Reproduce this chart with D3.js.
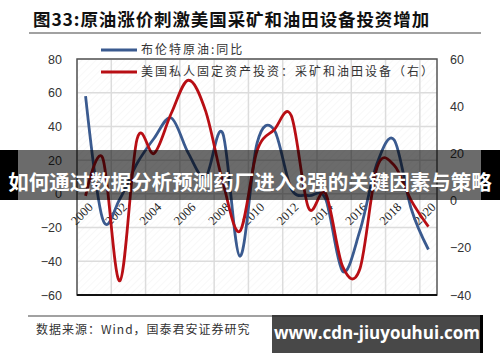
<!DOCTYPE html>
<html>
<head>
<meta charset="utf-8">
<script src="https://cdn.jsdelivr.net/npm/d3@7"></script>
<style>
  body { margin: 0; background: #fff; }
  svg { display: block; }
</style>
</head>
<body>
<svg id="chart"></svg>
<script>
// brent yoy vs us mining & oilfield equipment investment

var years = [2000,2001,2002,2003,2004,2005,2006,2007,2008,2009,2010,
             2011,2012,2013,2014,2015,2016,2017,2018,2019,2020];
var brentYoY = [58,-15,-3,18,33,45,24,10,36,-37,30,38,3,-1,-3,-46,-22,18,32,-9,-33];
var miningInv = [2,18,-34,26,20,37,51,38,8,-13,21,30,36,-3,3,-28,-29,14,15,0,-11];
var leftTicks = [-60,-40,-20,0,20,40,60,80];
var rightTicks = [-40,-20,0,20,40,60];
var labelYears = [2000,2002,2004,2006,2008,2010,2012,2014,2016,2018,2020];
var seriesNames = ["布伦特原油:同比", "美国私人固定资产投资：采矿和油田设备（右）"];

var width = 500, height = 362;
var plot = {left: 77, right: 437, top: 59, bottom: 295};

var svg = d3.select("#chart").attr("width", width).attr("height", height);

var x = d3.scaleBand().domain(years).range([plot.left, plot.right]).padding(0);
var yl = d3.scaleLinear().domain([-60, 80]).range([plot.bottom, plot.top]);
var yr = d3.scaleLinear().domain([-40, 60]).range([plot.bottom, plot.top]);
var cx = function(yr_) { return x(yr_) + x.bandwidth() / 2; };

// title
svg.append("text")
    .attr("x", 33).attr("y", 26)
    .style("font-family", "'Noto Sans CJK SC'")
    .style("font-weight", "bold")
    .style("font-size", "17.5px")
    .style("letter-spacing", "0.9px")
    .style("fill", "#111")
    .text("图33:原油涨价刺激美国采矿和油田设备投资增加");
svg.append("line").attr("x1", 29).attr("x2", 481).attr("y1", 33).attr("y2", 33)
    .style("stroke", "#444").style("stroke-width", 1.2);

// plot background hatch
var defs = svg.append("defs");
var pat = defs.append("pattern").attr("id", "hatch")
    .attr("width", 5).attr("height", 5)
    .attr("patternUnits", "userSpaceOnUse")
    .attr("patternTransform", "rotate(45)");
pat.append("line").attr("x1", 0).attr("y1", 0).attr("x2", 0).attr("y2", 5)
    .style("stroke", "#f1f1f1").style("stroke-width", 1);
svg.append("rect")
    .attr("x", plot.left).attr("y", plot.top)
    .attr("width", plot.right - plot.left).attr("height", plot.bottom - plot.top)
    .style("fill", "url(#hatch)");

// grid
svg.append("g").selectAll("line").data(leftTicks).enter().append("line")
    .attr("x1", plot.left).attr("x2", plot.right)
    .attr("y1", function(d) { return yl(d); }).attr("y2", function(d) { return yl(d); })
    .style("stroke", "#dcdcdc").style("stroke-width", 1.5);
svg.append("g").selectAll("line").data(labelYears).enter().append("line")
    .attr("x1", function(d) { return x(d); }).attr("x2", function(d) { return x(d); })
    .attr("y1", plot.top).attr("y2", plot.bottom)
    .style("stroke", "#dcdcdc").style("stroke-width", 1.5);

// border
svg.append("rect")
    .attr("x", plot.left).attr("y", plot.top)
    .attr("width", plot.right - plot.left).attr("height", plot.bottom - plot.top)
    .style("fill", "none").style("stroke", "#555").style("stroke-width", 1.5);
svg.append("line").attr("x1", plot.left).attr("x2", plot.right)
    .attr("y1", plot.bottom).attr("y2", plot.bottom)
    .style("stroke", "#111").style("stroke-width", 2);

// axes
var leftAxis = svg.append("g").attr("transform", "translate(" + (plot.left - 15) + ",0)")
    .call(d3.axisLeft(yl).tickValues(leftTicks).tickSize(0).tickPadding(0));
var rightAxis = svg.append("g").attr("transform", "translate(" + (plot.right + 13) + ",0)")
    .call(d3.axisRight(yr).tickValues(rightTicks).tickSize(0).tickPadding(0));
[leftAxis, rightAxis].forEach(function(a) {
  a.select(".domain").remove();
  a.selectAll("text")
      .style("font-family", "'Liberation Sans', Arial, sans-serif")
      .style("font-size", "12.5px")
      .style("fill", "#333");
});

var xAxis = svg.append("g").attr("transform", "translate(0," + yl(0) + ")")
    .call(d3.axisBottom(x).tickValues(labelYears).tickSize(0).tickPadding(0));
xAxis.select(".domain").remove();
xAxis.selectAll("text")
    .attr("y", 0).attr("dy", "0.35em")
    .attr("transform", "translate(5,11) rotate(-45)")
    .style("text-anchor", "end")
    .style("font-family", "'Liberation Serif', 'Times New Roman', serif")
    .style("font-size", "12.5px")
    .style("fill", "#222");

// lines
var lineL = d3.line()
    .x(function(d, i) { return cx(years[i]); })
    .y(function(d) { return yl(d); })
    .curve(d3.curveCardinal.tension(0));
var lineR = d3.line()
    .x(function(d, i) { return cx(years[i]); })
    .y(function(d) { return yr(d); })
    .curve(d3.curveCardinal.tension(0));

svg.append("path").attr("d", lineL(brentYoY))
    .style("fill", "none").style("stroke", "#3a5a8f").style("stroke-width", 2.8);
svg.append("path").attr("d", lineR(miningInv))
    .style("fill", "none").style("stroke", "#b80e14").style("stroke-width", 2.8);

// legend
var legColors = ["#3a5a8f", "#b80e14"];
var leg = svg.append("g").selectAll("g").data(seriesNames).enter().append("g")
    .attr("transform", function(d, i) { return "translate(101," + (50 + i * 22) + ")"; });
leg.append("line").attr("x1", 0).attr("x2", 36).attr("y1", 0).attr("y2", 0)
    .style("stroke", function(d, i) { return legColors[i]; }).style("stroke-width", 2.8);
leg.append("text").attr("x", 40).attr("y", 0).attr("dy", "0.35em")
    .style("font-family", "'Noto Sans CJK SC'")
    .style("font-size", "12px")
    .style("letter-spacing", "2px")
    .style("fill", "#333")
    .text(function(d) { return d; });

// footer
svg.append("line").attr("x1", 28).attr("x2", 481).attr("y1", 316).attr("y2", 316)
    .style("stroke", "#444").style("stroke-width", 1.2);
svg.append("text").attr("x", 36).attr("y", 334)
    .style("font-family", "'Noto Sans CJK SC'")
    .style("font-size", "12px")
    .style("letter-spacing", "1px")
    .style("fill", "#333")
    .text("数据来源：Wind，国泰君安证券研究");

// overlay banner
svg.append("rect").attr("x", 0).attr("y", 150).attr("width", 500).attr("height", 50)
    .style("fill", "rgba(0,0,0,0.58)");
svg.append("rect").attr("x", 0).attr("y", 150).attr("width", 18).attr("height", 50).style("fill", "#000");
svg.append("rect").attr("x", 481).attr("y", 150).attr("width", 19).attr("height", 50).style("fill", "#000");
svg.append("text").attr("x", 250).attr("y", 183).attr("dy", "0.35em")
    .attr("text-anchor", "middle")
    .style("font-family", "'Noto Sans CJK SC'")
    .style("font-weight", "bold")
    .style("font-size", "20.5px")
    .style("fill", "#fff")
    .text("如何通过数据分析预测药厂进入8强的关键因素与策略");

// watermark
svg.append("rect").attr("x", 272).attr("y", 315).attr("width", 209).attr("height", 38)
    .style("fill", "rgba(40,40,40,0.85)");
svg.append("rect").attr("x", 480).attr("y", 315).attr("width", 3).attr("height", 38).style("fill", "#000");
svg.append("text").attr("x", 377).attr("y", 333).attr("dy", "0.35em")
    .attr("text-anchor", "middle")
    .style("font-family", "'Open Sans', 'DejaVu Sans', sans-serif")
    .style("font-weight", "bold")
    .style("font-size", "17px")
    .style("fill", "#fff")
    .text("www.cdn-jiuyouhui.com");
</script>
</body>
</html>
